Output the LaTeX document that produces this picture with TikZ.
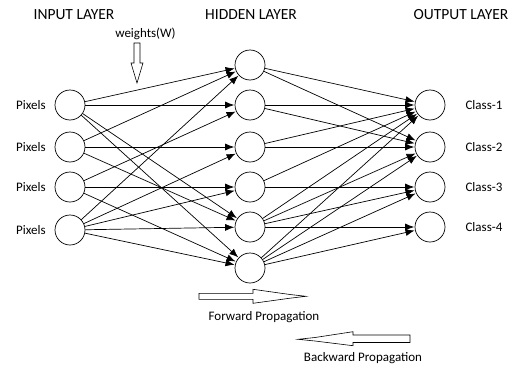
\documentclass[tikz,border=0pt]{standalone}
\usepackage{fontspec}
\setmainfont{Carlito}
\usepackage{tikz}
\usetikzlibrary{arrows.meta}

\begin{document}
\begin{tikzpicture}[x=1pt, y=-1pt, line width=0.7pt,
  neuron/.style={circle, draw, inner sep=0pt, minimum size=30pt},
  layer/.style={font=\fontsize{15.5}{18}\selectfont},
  lbl/.style={font=\fontsize{13}{15}\selectfont},
  wire/.style={-{Latex[length=9pt,width=7pt]}, shorten >=0.5pt}]
  \useasboundingbox (0,0) rectangle (524,372);

  % layer titles
  \node[layer] (tin)  at (74,15)  {INPUT LAYER};
  \node[layer] (thid) at (251,15) {HIDDEN LAYER};
  \node[layer] (tout) at (461,15) {OUTPUT LAYER};

  % neurons
  \foreach \y [count=\i] in {105,147,187,230} {
    \node[neuron] (in\i) at (70,\y) {};
    \node[lbl] (pix\i) at (31,\y) {Pixels};
  }
  \foreach \y [count=\i] in {65,105,147,187,227,268}
    \node[neuron] (hid\i) at (250,\y) {};
  \foreach \y [count=\i] in {105,147,187,227} {
    \node[neuron] (out\i) at (430,\y) {};
    \node[lbl] (cls\i) at (484,\y) {Class-\i};
  }

  % weighted connections
  \foreach \i/\j in {1/1,1/2,1/5,1/6,2/1,2/3,2/5,3/2,3/4,3/6,4/1,4/3,4/4,4/5,4/6}
    \draw[wire] (in\i) -- (hid\j);
  \foreach \i/\j in {1/1,1/2,2/1,2/2,3/1,3/2,4/1,4/3,5/1,5/2,5/3,5/4,6/1,6/2,6/3,6/4}
    \draw[wire] (hid\i) -- (out\j);

  % weights pointer
  \node[lbl] (wts) at (145.5,34) {weights(W)};
  \draw[line width=0.6pt] (134,43) -- (140,43) -- (140,63) -- (143,63) -- (137,83)
    -- (131,63) -- (134,63) -- cycle;

  % propagation directions
  \draw[line width=0.6pt] (199,293.3) -- (253,293.3) -- (253,289.3) -- (290,294.5)
    -- (306,296.3) -- (290,298.2) -- (253,303.3) -- (253,299.3) -- (199,299.3) -- cycle;
  \node[lbl] (fwd) at (264,317) {Forward Propagation};
  \draw[line width=0.6pt] (410,335) -- (353,335) -- (353,331.7) -- (315,337.5)
    -- (298,339.3) -- (315,341) -- (353,345.7) -- (353,342.5) -- (410,342.5) -- cycle;
  \node[lbl] (bwd) at (363,358) {Backward Propagation};
\end{tikzpicture}
\end{document}
